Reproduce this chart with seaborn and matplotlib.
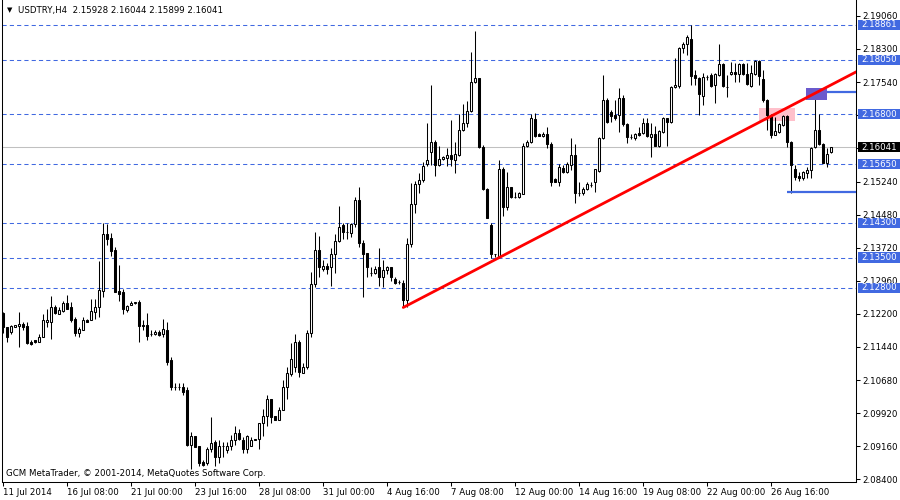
import numpy as np
import pandas as pd
import matplotlib
matplotlib.use('Agg')
import matplotlib.pyplot as plt
import matplotlib.transforms as mtransforms
from matplotlib.patches import Rectangle
import seaborn as sns

# USDTRY H4 candles (208 bars)
opens = [
    2.1223, 2.1189, 2.1179, 2.1189, 2.1193, 2.1198, 2.1193, 2.1156, 2.1159, 2.1156,
    2.1166, 2.1202, 2.1202, 2.1237, 2.1221, 2.1228, 2.1246, 2.1235, 2.1209, 2.1177,
    2.1184, 2.1207, 2.1205, 2.1225, 2.1235, 2.1274, 2.1405, 2.1396, 2.1368, 2.1274,
    2.1271, 2.1230, 2.1241, 2.1246, 2.1248, 2.1195, 2.1195, 2.1175, 2.1175, 2.1179,
    2.1175, 2.1184, 2.1115, 2.1053, 2.1053, 2.1053, 2.1046, 2.0919, 2.0938, 2.0915,
    2.0880, 2.0876, 2.0910, 2.0926, 2.0890, 2.0915, 2.0906, 2.0917, 2.0931, 2.0945,
    2.0931, 2.0910, 2.0917, 2.0931, 2.0933, 2.0968, 2.0984, 2.1025, 2.0984, 2.0977,
    2.1000, 2.1051, 2.1081, 2.1097, 2.1156, 2.1085, 2.1097, 2.1177, 2.1290, 2.1368,
    2.1324, 2.1331, 2.1327, 2.1357, 2.1389, 2.1425, 2.1409, 2.1407, 2.1428, 2.1483,
    2.1384, 2.1361, 2.1315, 2.1315, 2.1329, 2.1304, 2.1322, 2.1327, 2.1301, 2.1294,
    2.1292, 2.1253, 2.1380, 2.1474, 2.1520, 2.1529, 2.1566, 2.1593, 2.1616, 2.1564,
    2.1577, 2.1580, 2.1587, 2.1575, 2.1587, 2.1644, 2.1660, 2.1688, 2.1754, 2.1764,
    2.1605, 2.1508, 2.1425, 2.1357, 2.1352, 2.1554, 2.1467, 2.1513, 2.1490, 2.1490,
    2.1497, 2.1607, 2.1616, 2.1669, 2.1635, 2.1630, 2.1635, 2.1612, 2.1531, 2.1524,
    2.1557, 2.1547, 2.1564, 2.1587, 2.1499, 2.1499, 2.1508, 2.1518, 2.1524, 2.1550,
    2.1626, 2.1713, 2.1685, 2.1678, 2.1678, 2.1718, 2.1658, 2.1628, 2.1626, 2.1637,
    2.1637, 2.1660, 2.1628, 2.1635, 2.1607, 2.1639, 2.1671, 2.1662, 2.1743, 2.1745,
    2.1833, 2.1842, 2.1853, 2.1770, 2.1764, 2.1722, 2.1766, 2.1770, 2.1748, 2.1770,
    2.1796, 2.1743, 2.1773, 2.1777, 2.1773, 2.1796, 2.1773, 2.1745, 2.1773, 2.1803,
    2.1761, 2.1713, 2.1678, 2.1632, 2.1639, 2.1655, 2.1676, 2.1616, 2.1554, 2.1538,
    2.1534, 2.1545, 2.1552, 2.1605, 2.1644, 2.1612, 2.1568, 2.15928,
]
highs = [
    2.1225, 2.1191, 2.1195, 2.1195, 2.1225, 2.1202, 2.1202, 2.1159, 2.1161, 2.1175,
    2.1221, 2.1232, 2.1262, 2.1241, 2.1237, 2.1251, 2.1264, 2.1248, 2.1212, 2.1191,
    2.1214, 2.1209, 2.1255, 2.1255, 2.1343, 2.1430, 2.1428, 2.1407, 2.1375, 2.1333,
    2.1278, 2.1241, 2.1251, 2.1248, 2.1253, 2.1207, 2.1223, 2.1182, 2.1182, 2.1182,
    2.1209, 2.1202, 2.1120, 2.1062, 2.1060, 2.1062, 2.1051, 2.0949, 2.0940, 2.0915,
    2.0883, 2.0913, 2.0982, 2.0929, 2.0931, 2.0926, 2.0926, 2.0942, 2.0961, 2.0956,
    2.0936, 2.0942, 2.0936, 2.0933, 2.0968, 2.1002, 2.1034, 2.1025, 2.0986, 2.1005,
    2.1069, 2.1097, 2.1154, 2.1175, 2.1161, 2.1108, 2.1182, 2.1317, 2.1409, 2.1400,
    2.1345, 2.1338, 2.1373, 2.1403, 2.1469, 2.1430, 2.1430, 2.1430, 2.1490, 2.1513,
    2.1391, 2.1361, 2.1329, 2.1331, 2.1373, 2.1345, 2.1331, 2.1329, 2.1304, 2.1299,
    2.1299, 2.1396, 2.1522, 2.1527, 2.1545, 2.1570, 2.1660, 2.1748, 2.1621, 2.1607,
    2.1584, 2.1603, 2.1667, 2.1616, 2.1681, 2.1704, 2.1711, 2.1823, 2.1872, 2.1764,
    2.1610, 2.1511, 2.1430, 2.1359, 2.1575, 2.1559, 2.1547, 2.1513, 2.1501, 2.1501,
    2.1614, 2.1621, 2.1681, 2.1683, 2.1637, 2.1639, 2.1651, 2.1616, 2.1534, 2.1566,
    2.1564, 2.1570, 2.1626, 2.1612, 2.1524, 2.1513, 2.1524, 2.1524, 2.1554, 2.1628,
    2.1770, 2.1718, 2.1690, 2.1713, 2.1741, 2.1725, 2.1660, 2.1635, 2.1637, 2.1651,
    2.1671, 2.1671, 2.1660, 2.1653, 2.1644, 2.1674, 2.1671, 2.1745, 2.1810, 2.1835,
    2.1846, 2.1862, 2.1886, 2.1782, 2.1766, 2.1775, 2.1770, 2.1775, 2.1775, 2.1842,
    2.1798, 2.1770, 2.1800, 2.1798, 2.1798, 2.1798, 2.1798, 2.1794, 2.1805, 2.1805,
    2.1782, 2.1715, 2.1681, 2.1674, 2.1660, 2.1678, 2.1678, 2.1619, 2.1564, 2.1547,
    2.1550, 2.1559, 2.1605, 2.1722, 2.1681, 2.1614, 2.1603, 2.16044,
]
lows = [
    2.1177, 2.1156, 2.1175, 2.1189, 2.1143, 2.1182, 2.1152, 2.1149, 2.1154, 2.1156,
    2.1166, 2.1191, 2.1163, 2.1221, 2.1221, 2.1225, 2.1232, 2.1202, 2.1170, 2.1166,
    2.1184, 2.1202, 2.1205, 2.1209, 2.1212, 2.1258, 2.1379, 2.1354, 2.1271, 2.1251,
    2.1221, 2.1225, 2.1241, 2.1244, 2.1156, 2.1184, 2.1161, 2.1170, 2.1172, 2.1170,
    2.1166, 2.1103, 2.1044, 2.1044, 2.1044, 2.1034, 2.0917, 2.0862, 2.0913, 2.0869,
    2.0871, 2.0873, 2.0903, 2.0871, 2.0876, 2.0890, 2.0899, 2.0908, 2.0919, 2.0929,
    2.0899, 2.0901, 2.0915, 2.0929, 2.0910, 2.0938, 2.0961, 2.0970, 2.0975, 2.0975,
    2.0998, 2.1025, 2.1078, 2.1087, 2.1076, 2.1085, 2.1094, 2.1166, 2.1283, 2.1304,
    2.1320, 2.1313, 2.1285, 2.1315, 2.1386, 2.1393, 2.1393, 2.1398, 2.1421, 2.1375,
    2.1260, 2.1306, 2.1308, 2.1313, 2.1285, 2.1283, 2.1313, 2.1297, 2.1290, 2.1290,
    2.1235, 2.1237, 2.1375, 2.1453, 2.1499, 2.1524, 2.1561, 2.1564, 2.1538, 2.1561,
    2.1575, 2.1561, 2.1561, 2.1545, 2.1584, 2.1642, 2.1651, 2.1685, 2.1752, 2.1603,
    2.1506, 2.1442, 2.1350, 2.1352, 2.1350, 2.1446, 2.1460, 2.1488, 2.1488, 2.1488,
    2.1497, 2.1605, 2.1614, 2.1628, 2.1630, 2.1628, 2.1603, 2.1515, 2.1524, 2.1515,
    2.1545, 2.1545, 2.1552, 2.1476, 2.1492, 2.1494, 2.1506, 2.1513, 2.1501, 2.1547,
    2.1623, 2.1660, 2.1662, 2.1667, 2.1639, 2.1653, 2.1614, 2.1623, 2.1621, 2.1630,
    2.1635, 2.1628, 2.1582, 2.1607, 2.1605, 2.1637, 2.1607, 2.1660, 2.1741, 2.1741,
    2.1821, 2.1816, 2.1748, 2.1748, 2.1678, 2.1701, 2.1759, 2.1743, 2.1706, 2.1768,
    2.1743, 2.1720, 2.1770, 2.1754, 2.1754, 2.1770, 2.1748, 2.1743, 2.1770, 2.1748,
    2.1708, 2.1644, 2.1626, 2.1632, 2.1637, 2.1653, 2.1605, 2.1499, 2.1529, 2.1527,
    2.1529, 2.1534, 2.1534, 2.1603, 2.1610, 2.1568, 2.1559, 2.15899,
]
closes = [
    2.1189, 2.1166, 2.1193, 2.1195, 2.1198, 2.1191, 2.1154, 2.1152, 2.1156, 2.1168,
    2.1207, 2.1207, 2.1237, 2.1223, 2.1230, 2.1246, 2.1232, 2.1207, 2.1177, 2.1186,
    2.1205, 2.1202, 2.1228, 2.1235, 2.1276, 2.1405, 2.1393, 2.1366, 2.1271, 2.1267,
    2.1232, 2.1239, 2.1246, 2.1248, 2.1193, 2.1193, 2.1170, 2.1175, 2.1179, 2.1172,
    2.1186, 2.1110, 2.1051, 2.1053, 2.1053, 2.1041, 2.0919, 2.0938, 2.0913, 2.0878,
    2.0873, 2.0910, 2.0924, 2.0890, 2.0915, 2.0917, 2.0917, 2.0931, 2.0947, 2.0933,
    2.0910, 2.0938, 2.0929, 2.0933, 2.0968, 2.0984, 2.1025, 2.0982, 2.0977, 2.1000,
    2.1053, 2.1083, 2.1117, 2.1156, 2.1087, 2.1097, 2.1177, 2.1290, 2.1368, 2.1327,
    2.1331, 2.1324, 2.1357, 2.1389, 2.1421, 2.1409, 2.1409, 2.1428, 2.1483, 2.1384,
    2.1359, 2.1329, 2.1315, 2.1324, 2.1304, 2.1322, 2.1329, 2.1304, 2.1292, 2.1294,
    2.1253, 2.1380, 2.1474, 2.1520, 2.1529, 2.1561, 2.1575, 2.1616, 2.1564, 2.1577,
    2.1582, 2.1587, 2.1577, 2.1589, 2.1644, 2.1660, 2.1688, 2.1754, 2.1764, 2.1605,
    2.1508, 2.1442, 2.1357, 2.1357, 2.1554, 2.1467, 2.1513, 2.1490, 2.1490, 2.1499,
    2.1607, 2.1616, 2.1671, 2.1630, 2.1630, 2.1635, 2.1612, 2.1524, 2.1524, 2.1559,
    2.1547, 2.1566, 2.1587, 2.1499, 2.1499, 2.1508, 2.1520, 2.1518, 2.1554, 2.1626,
    2.1713, 2.1662, 2.1676, 2.1671, 2.1718, 2.1658, 2.1628, 2.1628, 2.1635, 2.1632,
    2.1660, 2.1630, 2.1635, 2.1607, 2.1642, 2.1671, 2.1662, 2.1743, 2.1748, 2.1833,
    2.1842, 2.1858, 2.1768, 2.1764, 2.1727, 2.1766, 2.1766, 2.1745, 2.1773, 2.1796,
    2.1745, 2.1743, 2.1777, 2.1773, 2.1796, 2.1773, 2.1750, 2.1775, 2.1803, 2.1768,
    2.1713, 2.1678, 2.1632, 2.1642, 2.1658, 2.1676, 2.1616, 2.1564, 2.1536, 2.1534,
    2.1547, 2.1552, 2.1603, 2.1644, 2.1612, 2.1568, 2.1589, 2.16041,
]

time_tick_bars = [0, 16, 32, 48, 64, 80, 96, 112, 128, 144, 160, 176, 192]
time_tick_labels = ['11 Jul 2014', '16 Jul 08:00', '21 Jul 00:00', '23 Jul 16:00',
                    '28 Jul 08:00', '31 Jul 00:00', '4 Aug 16:00', '7 Aug 08:00',
                    '12 Aug 00:00', '14 Aug 16:00', '19 Aug 08:00', '22 Aug 00:00',
                    '26 Aug 16:00']

# price scale ticks (the two under the highlighted labels carry no text)
price_ticks = [2.19060, 2.18300, 2.17540, 2.16780, 2.16020, 2.15240, 2.14480,
               2.13720, 2.12960, 2.12200, 2.11440, 2.10680, 2.09920, 2.09160, 2.08400]
hidden_ticks = [2.16780, 2.16020]

level_prices = [2.18861, 2.18050, 2.16800, 2.15650, 2.14300, 2.13500, 2.12800]
current_price = 2.16041

# drawn objects
trend_bars = [100, 214]
trend_prices = [2.1235, 2.1781]
pink_zone_bars = [188.9, 197.9]
pink_zone_prices = [2.1665, 2.1695]
blue_zone_bars = [200.8, 205.9]
blue_zone_prices = [2.1713, 2.1741]
blue_ray_price = 2.1730
support_start_bar = 195.9
support_price = 2.1500

title_text = 'USDTRY,H4  2.15928 2.16044 2.15899 2.16041'
copyright_text = 'GCM MetaTrader, \u00a9 2001-2014, MetaQuotes Software Corp.'

BLUE = '#4169E1'

df = pd.DataFrame({'open': opens, 'high': highs, 'low': lows, 'close': closes})
df['bar'] = np.arange(len(df))
df['up'] = df['close'] >= df['open']

sns.set_theme(style='ticks')
plt.rcParams['font.family'] = ['DejaVu Sans']
fs = 6.2

fig = plt.figure(figsize=(9, 5), dpi=100)
fig.patch.set_facecolor('white')
ax = fig.add_axes([2 / 900, 18 / 500, 854 / 900, 482 / 500])
ax.set_facecolor('white')

# level lines and current price
for p in level_prices:
    ax.axhline(p, color=BLUE, lw=0.75, ls=(0, (4, 3)), zorder=1)
ax.axhline(current_price, color='#C0C0C0', lw=0.75, zorder=1)

# pink zone behind candles
ax.add_patch(Rectangle((pink_zone_bars[0], pink_zone_prices[0]),
                       pink_zone_bars[1] - pink_zone_bars[0],
                       pink_zone_prices[1] - pink_zone_prices[0],
                       facecolor='#FFC0CB', edgecolor='none', zorder=2))

# candles
ax.vlines(df['bar'], df['low'], df['high'], color='black', lw=0.75, zorder=3)
ax.bar(df['bar'], df['close'] - df['open'], bottom=df['open'], width=0.5,
       color=np.where(df['up'], 'white', 'black'), edgecolor='black',
       linewidth=0.75, zorder=4)

# blue zone + rays
ax.add_patch(Rectangle((blue_zone_bars[0], blue_zone_prices[0]),
                       blue_zone_bars[1] - blue_zone_bars[0],
                       blue_zone_prices[1] - blue_zone_prices[0],
                       facecolor='#6A5ACD', edgecolor='none', zorder=5))
ax.hlines(blue_ray_price, blue_zone_bars[1], 220, color=BLUE, lw=1.6, zorder=5)
ax.hlines(support_price, support_start_bar, 220, color=BLUE, lw=1.6, zorder=5)

# trend line
sns.lineplot(x=trend_bars, y=trend_prices, color='red', lw=2, ax=ax, zorder=6)

ax.set_xlim(-0.33, 213.2)
ax.set_ylim(2.08332, 2.19428)

# axes frame
for side in ['left', 'bottom', 'right']:
    ax.spines[side].set_color('black')
    ax.spines[side].set_linewidth(0.75)
ax.spines['top'].set_visible(False)

ax.yaxis.tick_right()
ax.set_yticks(price_ticks)
ax.set_yticklabels(['' if p in hidden_ticks else f'{p:.5f}' for p in price_ticks])
ax.tick_params(axis='y', direction='out', length=3, width=0.75, pad=1.5,
               labelsize=fs, colors='black')
ax.set_xticks(time_tick_bars)
ax.set_xticklabels(time_tick_labels)
ax.tick_params(axis='x', direction='out', length=3, width=0.75, pad=1,
               labelsize=fs, colors='black')
for lbl in ax.get_xticklabels():
    lbl.set_horizontalalignment('left')
ax.set_xlabel('')
ax.set_ylabel('')
ax.grid(False)

# highlighted price labels on the right scale
trans = mtransforms.blended_transform_factory(fig.transFigure, ax.transData)
half = 0.00118
for p, fc in [(lv, BLUE) for lv in level_prices] + [(current_price, 'black')]:
    ax.add_patch(Rectangle((858 / 900, p - half), 42 / 900, 2 * half,
                           transform=trans, facecolor=fc, edgecolor='none',
                           clip_on=False, zorder=10))
    ax.text(861 / 900, p, f'{p:.5f}', transform=trans, color='white',
            fontsize=fs, va='center', ha='left', clip_on=False, zorder=11)

# header and footer text
fig.text(7 / 900, 1 - 10 / 500, '\u25bc', fontsize=5, va='center', color='black')
fig.text(18 / 900, 1 - 10 / 500, title_text, fontsize=fs, va='center', color='black')
fig.text(6 / 900, 1 - 474 / 500, copyright_text, fontsize=fs, va='center', color='black')

fig.savefig('out.png', dpi=100)
plt.close(fig)
